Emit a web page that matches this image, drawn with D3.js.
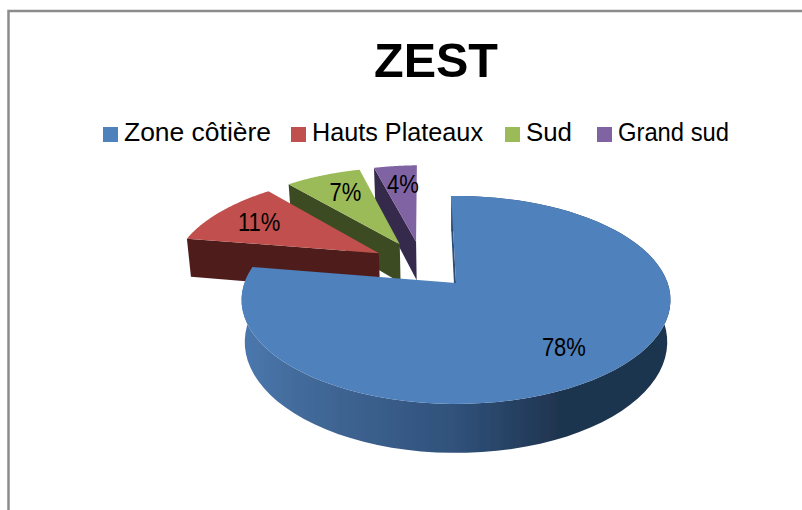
<!DOCTYPE html>
<html>
<head>
<meta charset="utf-8">
<script src="https://cdn.jsdelivr.net/npm/d3@7"></script>
<style>
    html, body { margin: 0; padding: 0; background: #fff; }
    svg { display: block; font-family: "Liberation Sans", Arial, sans-serif; }
</style>
</head>
<body>
<div id="chart"></div>
<script>
// data
var chartTitle = 'ZEST';
var zones = ['Zone côtière', 'Hauts Plateaux', 'Sud', 'Grand sud'];
var shares = [78, 11, 7, 4];
var topColors = ['#4f81bd', '#c0504d', '#9bbb59', '#8064a2'];
var wallColors = ['#2f4d72', '#4f1f1d', '#3e4b22', '#352a4b'];

var width = 802, height = 510;

var svg = d3.select('#chart').append('svg')
    .attr('width', width)
    .attr('height', height);

// tilted pie: unit circle in the plane, pushed through a small perspective
var persp = 0.163, explode = 0.25, depth = 41, shrink = 0.015;
var xScale = d3.scaleLinear().domain([-1, 1]).range([456 - 211.6, 456 + 211.6]);
var yScale = d3.scaleLinear().domain([-1, 1]).range([283 - 101.2, 283 + 101.2]);

function project(p, down) {
    var w = 1 - persp * p[1];
    var x0 = p[0] / w * (1 - shrink * down);
    return [xScale(x0), yScale(p[1] / w) + depth * down / w];
}

function unit(a) {
    return [Math.sin(a), -Math.cos(a)];
}

var pie = d3.pie().sort(null)
    .startAngle(-0.026)
    .endAngle(2 * Math.PI - 0.026);
var slices = pie(shares);
var mid0 = unit((slices[0].startAngle + slices[0].endAngle) / 2);

// every slice is exploded, the origin sits on the apex of the big one
slices.forEach(function (s) {
    s.mid = (s.startAngle + s.endAngle) / 2;
    var u = unit(s.mid);
    s.apex = [explode * (u[0] - mid0[0]), explode * (u[1] - mid0[1])];
    s.rim = d3.range(0, 81).map(function (i) {
        var a = s.startAngle + (s.endAngle - s.startAngle) * i / 80;
        var v = unit(a);
        return [s.apex[0] + v[0], s.apex[1] + v[1]];
    });
});

var line = d3.line();

var defs = svg.append('defs');
var grad = defs.append('linearGradient')
    .attr('id', 'blueWall')
    .attr('gradientUnits', 'userSpaceOnUse')
    .attr('x1', 242).attr('x2', 671).attr('y1', 0).attr('y2', 0);
[[0, '#4a78ae'], [0.13, '#436b9b'], [0.5, '#30517a'], [0.74, '#1f344f'], [1, '#1f344f']].forEach(function (d) {
    grad.append('stop').attr('offset', d[0]).attr('stop-color', d[1]);
});
defs.append('filter').attr('id', 'soft')
    .append('feGaussianBlur').attr('stdDeviation', 0.4);

// frame of the copied sheet
svg.append('path')
    .attr('d', line([[8.5, height], [8.5, 11], [width, 11]]))
    .attr('fill', 'none')
    .attr('stroke', '#8c8c8c')
    .attr('stroke-width', 2.5);

svg.append('text')
    .attr('x', 436)
    .attr('y', 77)
    .attr('text-anchor', 'middle')
    .attr('font-size', 48.5)
    .attr('font-weight', 'bold')
    .text(chartTitle);

// legend
var legendX = [103, 291, 505, 597];
var legendLen = [147, 171, 46, 111];
var legend = svg.append('g').selectAll('g').data(zones).join('g')
    .attr('transform', function (d, i) { return 'translate(' + legendX[i] + ',127)'; });
legend.append('rect')
    .attr('width', 15).attr('height', 15)
    .attr('fill', function (d, i) { return topColors[i]; });
legend.append('text')
    .attr('x', 21)
    .attr('y', 14)
    .attr('font-size', 25)
    .attr('fill', '#000')
    .attr('textLength', function (d, i) { return legendLen[i]; })
    .attr('lengthAdjust', 'spacingAndGlyphs')
    .text(function (d) { return d; });

var pieG = svg.append('g').attr('filter', 'url(#soft)');

// back slices first, big one last
d3.range(slices.length - 1, -1, -1).forEach(function (i) {
    var s = slices[i];
    var g = pieG.append('g');

    if (i === 0) {
        var topRim = s.rim.map(function (p) { return project(p, 0); });
        var lowRim = s.rim.map(function (p) { return project(p, 1); }).reverse();
        g.append('path')
            .attr('d', line(topRim.concat(lowRim)) + 'Z')
            .attr('fill', 'url(#blueWall)');
    }

    // radial wall on the start edge
    var first = s.rim[0];
    g.append('path')
        .attr('d', line([
            project(first, 0), project(s.apex, 0),
            project(s.apex, 1), project(first, 1)
        ]) + 'Z')
        .attr('fill', wallColors[i]);

    // top face
    g.append('path')
        .attr('d', line([s.apex].concat(s.rim).map(function (p) { return project(p, 0); })) + 'Z')
        .attr('fill', topColors[i]);
});

// value labels sit at 3/4 of the radius, small nudge per slice
var labelNudge = [-7, 1, 5, 3];
svg.append('g').selectAll('text').data(slices).join('text')
    .attr('transform', function (s, i) {
        var v = unit(s.mid);
        var p = project([s.apex[0] + 0.75 * v[0], s.apex[1] + 0.75 * v[1]], 0);
        return 'translate(' + (p[0] + labelNudge[i]) + ',' + (p[1] + 10) + ') scale(0.88,1)';
    })
    .attr('text-anchor', 'middle')
    .attr('font-size', 25)
    .attr('fill', '#000')
    .text(function (s) { return s.data + '%'; });
</script>
</body>
</html>
